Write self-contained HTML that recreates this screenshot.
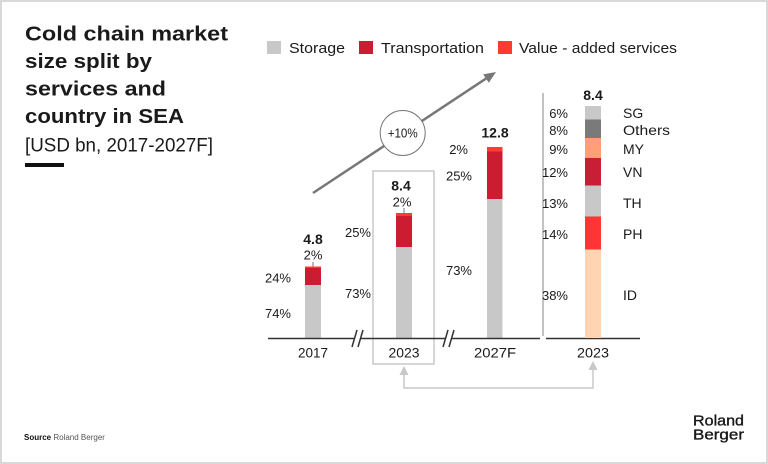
<!DOCTYPE html>
<html><head><meta charset="utf-8"><style>
html,body{margin:0;padding:0;background:#fff;}
svg{display:block;}
text{font-family:"Liberation Sans",sans-serif;fill:#1a1a1a;}
</style></head><body>
<svg width="768" height="464" viewBox="0 0 768 464" xmlns="http://www.w3.org/2000/svg">
<rect x="0" y="0" width="768" height="464" fill="#fff"/>
<rect x="1" y="1" width="766" height="462" fill="none" stroke="#d9d9d9" stroke-width="2"/>

<!-- title -->
<g font-weight="bold" font-size="20">
<text x="25" y="40.5" textLength="203" lengthAdjust="spacingAndGlyphs">Cold chain market</text>
<text x="25" y="68" textLength="127" lengthAdjust="spacingAndGlyphs">size split by</text>
<text x="25" y="95.5" textLength="141" lengthAdjust="spacingAndGlyphs">services and</text>
<text x="25" y="123" textLength="159" lengthAdjust="spacingAndGlyphs">country in SEA</text>
</g>
<text x="25" y="151.5" font-size="19" textLength="188" lengthAdjust="spacingAndGlyphs">[USD bn, 2017-2027F]</text>
<rect x="25" y="163" width="39" height="4" fill="#111"/>

<!-- legend -->
<rect x="267" y="41" width="14" height="13" fill="#c8c8c8"/>
<text x="289" y="53" font-size="15" textLength="56" lengthAdjust="spacingAndGlyphs">Storage</text>
<rect x="359" y="41" width="14" height="13" fill="#cc1c32"/>
<text x="381" y="53" font-size="15" textLength="103" lengthAdjust="spacingAndGlyphs">Transportation</text>
<rect x="498" y="41" width="14" height="13" fill="#ff3b30"/>
<text x="519" y="53" font-size="15" textLength="158" lengthAdjust="spacingAndGlyphs">Value - added services</text>

<!-- growth arrow -->
<line x1="313" y1="193" x2="486" y2="78.6" stroke="#777" stroke-width="2.5"/>
<polygon points="496,72 488.8,82.8 483.2,74.4" fill="#777"/>
<circle cx="402.7" cy="133" r="22.5" fill="#fff" stroke="#777" stroke-width="1"/>
<text x="402.7" y="137.5" font-size="13" text-anchor="middle" textLength="30" lengthAdjust="spacingAndGlyphs">+10%</text>

<!-- 2023 highlight box -->
<rect x="373" y="171" width="61" height="193" fill="none" stroke="#c8c8c8" stroke-width="1.5"/>

<!-- bars: 2017 -->
<rect x="305" y="285" width="16" height="53" fill="#c8c8c8"/>
<rect x="305" y="268" width="16" height="17" fill="#cc1c32"/>
<rect x="305" y="266.5" width="16" height="1.5" fill="#ff3b30"/>
<line x1="313" y1="262" x2="313" y2="266.5" stroke="#777" stroke-width="1"/>
<!-- 2023 -->
<rect x="396" y="247" width="16" height="91" fill="#c8c8c8"/>
<rect x="396" y="216" width="16" height="31" fill="#cc1c32"/>
<rect x="396" y="213" width="16" height="3" fill="#ff3b30"/>
<line x1="404" y1="208" x2="404" y2="213" stroke="#777" stroke-width="1"/>
<!-- 2027F -->
<rect x="487" y="199" width="15.5" height="139" fill="#c8c8c8"/>
<rect x="487" y="151.5" width="15.5" height="47.5" fill="#cc1c32"/>
<rect x="487" y="147" width="15.5" height="4.5" fill="#ff3b30"/>

<!-- left labels -->
<g font-size="13">
<text x="313" y="259.7" text-anchor="middle">2%</text>
<text x="291" y="282.5" text-anchor="end">24%</text>
<text x="291" y="318" text-anchor="end">74%</text>
<text x="402" y="206.5" text-anchor="middle">2%</text>
<text x="371" y="237" text-anchor="end">25%</text>
<text x="371" y="298" text-anchor="end">73%</text>
<text x="468" y="154" text-anchor="end">2%</text>
<text x="472" y="180.5" text-anchor="end">25%</text>
<text x="472" y="275" text-anchor="end">73%</text>
</g>
<g font-size="14" font-weight="bold">
<text x="313" y="244" text-anchor="middle">4.8</text>
<text x="401" y="190.7" text-anchor="middle">8.4</text>
<text x="495" y="137.5" text-anchor="middle">12.8</text>
<text x="593" y="100" text-anchor="middle">8.4</text>
</g>

<!-- axis -->
<g stroke="#333" stroke-width="1.5">
<line x1="268" y1="338.5" x2="355" y2="338.5"/>
<line x1="361" y1="338.5" x2="446" y2="338.5"/>
<line x1="452" y1="338.5" x2="540" y2="338.5"/>
<line x1="546" y1="338.5" x2="640" y2="338.5"/>
<line x1="352" y1="347" x2="357" y2="330"/>
<line x1="358" y1="347" x2="363" y2="330"/>
<line x1="443" y1="347" x2="448" y2="330"/>
<line x1="449" y1="347" x2="454" y2="330"/>
</g>
<line x1="543" y1="93" x2="543" y2="336" stroke="#999" stroke-width="1.2"/>

<!-- x labels -->
<g font-size="14" text-anchor="middle">
<text x="313" y="357.5" textLength="30" lengthAdjust="spacingAndGlyphs">2017</text>
<text x="404" y="357.5" textLength="31" lengthAdjust="spacingAndGlyphs">2023</text>
<text x="495" y="357.5" textLength="42" lengthAdjust="spacingAndGlyphs">2027F</text>
<text x="593" y="357.5" textLength="32" lengthAdjust="spacingAndGlyphs">2023</text>
</g>

<!-- country bar -->
<rect x="585" y="106" width="16" height="13.5" fill="#c8c8c8"/>
<rect x="585" y="119.5" width="16" height="18.5" fill="#7a7a7a"/>
<rect x="585" y="138" width="16" height="20" fill="#ff9f78"/>
<rect x="585" y="158" width="16" height="27.5" fill="#c81e36"/>
<rect x="585" y="185.5" width="16" height="31" fill="#c8c8c8"/>
<rect x="585" y="216.5" width="16" height="33" fill="#ff3535"/>
<rect x="585" y="249.5" width="16" height="88.5" fill="#ffd4b3"/>
<g font-size="13" text-anchor="end">
<text x="568" y="118">6%</text>
<text x="568" y="135">8%</text>
<text x="568" y="154">9%</text>
<text x="568" y="177">12%</text>
<text x="568" y="208">13%</text>
<text x="568" y="239">14%</text>
<text x="568" y="300">38%</text>
</g>
<g font-size="14">
<text x="623" y="118">SG</text>
<text x="623" y="135" textLength="47" lengthAdjust="spacingAndGlyphs">Others</text>
<text x="623" y="154">MY</text>
<text x="623" y="177">VN</text>
<text x="623" y="208">TH</text>
<text x="623" y="239">PH</text>
<text x="623" y="300">ID</text>
</g>

<!-- connector -->
<path d="M404,374 V388 H593 V369" fill="none" stroke="#c8c8c8" stroke-width="1.5"/>
<polygon points="404,366 399.5,375 408.5,375" fill="#c8c8c8"/>
<polygon points="593,361 588.5,370 597.5,370" fill="#c8c8c8"/>

<!-- source -->
<text x="24" y="440" font-size="8"><tspan font-weight="bold" fill="#111">Source</tspan><tspan fill="#555"> Roland Berger</tspan></text>

<!-- logo -->
<g font-size="15" fill="#111" stroke="#111" stroke-width="0.35">
<text x="693" y="425.5" textLength="51" lengthAdjust="spacingAndGlyphs">Roland</text>
<text x="693" y="439.5" textLength="51" lengthAdjust="spacingAndGlyphs">Berger</text>
</g>
</svg>
</body></html>
